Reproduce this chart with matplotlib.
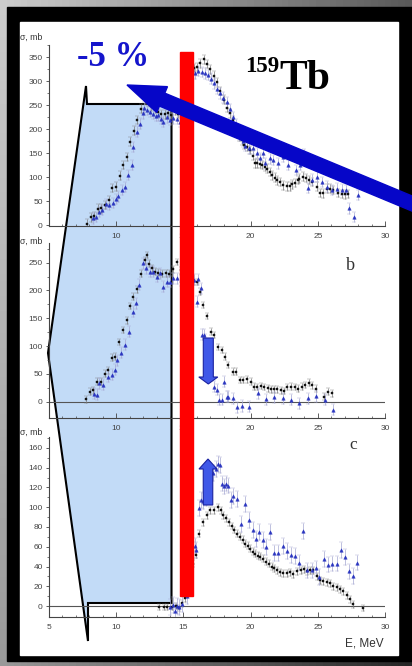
import numpy as np
import matplotlib.pyplot as plt
from matplotlib.patches import Polygon, Rectangle, FancyArrow

W, H = 412, 666

# (a) 159Tb, photoneutron cross section: squares / triangles
e_a_sq = [7.8, 8.1, 8.35, 8.65, 8.87, 9.17, 9.45, 9.72, 9.98, 10.25, 10.5, 10.78, 11.05, 11.33, 11.57,
          11.85, 12.12, 12.35, 12.6, 12.85, 13.1, 13.35, 13.6, 13.85, 14.1, 14.35, 14.6, 14.85, 15.1, 15.35,
          15.6, 15.8, 16.0, 16.24, 16.5, 16.75, 17.0, 17.25, 17.5, 17.75, 18.0, 18.25, 18.47, 18.7, 18.95,
          19.15, 19.34, 19.54, 19.74, 19.96, 20.15, 20.33, 20.5, 20.7, 20.88, 21.05, 21.2, 21.45, 21.6, 21.82,
          22.0, 22.2, 22.44, 22.7, 22.94, 23.1, 23.31, 23.5, 23.63, 23.93, 24.15, 24.35, 24.6, 24.92, 25.17,
          25.42, 25.67, 25.9, 26.16, 26.48, 26.78, 27.03, 27.28]
s_a_sq = [3, 16, 19, 34, 35, 42, 52, 77, 80, 103, 125, 142, 174, 197, 219,
          243, 261, 258, 248, 243, 236, 232, 231, 235, 230, 238, 232, 236, 255, 290,
          318, 328, 330, 338, 346, 336, 325, 312, 298, 280, 262, 245, 233, 219, 200,
          185, 177, 167, 163, 157, 145, 129, 129, 128, 125, 122, 118, 111, 104, 99,
          93, 90, 83, 81, 81, 85, 88, 94, 97, 101, 98, 94, 90, 80, 67,
          66, 76, 76, 73, 67, 65, 64, 65]
e_a_tr = [8.25, 8.5, 8.75, 8.95, 9.25, 9.5, 9.74, 9.95, 10.16, 10.4, 10.65, 10.9, 11.15, 11.27, 11.52,
          11.77, 12.0, 12.1, 12.3, 12.5, 12.75, 12.95, 13.13, 13.3, 13.5, 13.76, 14.0, 14.25, 14.5, 14.75,
          15.0, 15.3, 15.6, 15.86, 16.1, 16.35, 16.6, 16.85, 17.05, 17.25, 17.48, 17.7, 17.97, 18.22, 18.45,
          18.7, 18.95, 19.2, 19.4, 19.6, 19.85, 20.2, 20.5, 20.7, 20.9, 21.1, 21.45, 21.7, 22.07, 22.44,
          22.75, 23.06, 23.4, 23.7, 24.0, 24.3, 24.6, 24.92, 25.3, 25.67, 26.04, 26.4, 26.78, 27.08, 27.35,
          27.73, 28.0]
s_a_tr = [14, 17, 27, 31, 44, 42, 46, 54, 60, 73, 79, 104, 125, 163, 195,
          212, 233, 245, 240, 236, 232, 228, 229, 222, 216, 225, 220, 223, 222, 215,
          225, 280, 313, 317, 322, 320, 317, 313, 306, 296, 285, 275, 266, 256, 242,
          226, 210, 186, 175, 165, 160, 160, 150, 139, 150, 129, 139, 136, 129, 143,
          125, 153, 115, 125, 148, 77, 95, 101, 90, 80, 73, 76, 74, 73, 35,
          17, 63]

# (b)
e_b_sq = [7.75, 8.05, 8.3, 8.6, 8.85, 9.17, 9.4, 9.69, 9.93, 10.23, 10.48, 10.78, 11.03, 11.28, 11.57,
          11.85, 12.14, 12.3, 12.45, 12.65, 12.9, 13.13, 13.4, 13.7, 13.95, 14.25, 14.55, 14.8, 15.1, 15.4,
          15.75, 16.0, 16.24, 16.48, 16.78, 17.05, 17.3, 17.6, 17.85, 18.1, 18.34, 18.67, 18.89, 19.21, 19.46,
          19.76, 20.0, 20.25, 20.45, 20.78, 21.0, 21.27, 21.52, 21.77, 22.0, 22.24, 22.47, 22.71, 23.0, 23.3,
          23.55, 23.8, 24.05, 24.34, 24.6, 24.87, 25.46, 25.78, 26.03]
s_b_sq = [4, 18, 20, 36, 36, 50, 56, 79, 81, 107, 129, 146, 172, 189, 202,
          230, 254, 264, 248, 240, 234, 232, 230, 231, 230, 238, 251, 236, 242, 230,
          216, 215, 198, 174, 154, 126, 120, 98, 93, 81, 66, 54, 54, 39, 39,
          40, 36, 27, 26, 28, 26, 24, 22, 22, 22, 20, 19, 26, 27, 26,
          23, 27, 30, 34, 29, 23, 9, 18, 15]
e_b_tr = [8.35, 8.6, 8.74, 8.99, 9.41, 9.66, 9.91, 10.08, 10.33, 10.66, 10.98, 11.23, 11.47, 11.72, 11.97,
          12.22, 12.52, 12.76, 13.01, 13.26, 13.51, 13.76, 14.0, 14.25, 14.5, 14.8, 15.1, 15.45, 15.8, 15.98,
          16.12, 16.28, 16.35, 16.5, 16.58, 16.85, 17.08, 17.3, 17.5, 17.67, 17.85, 18.02, 18.22, 18.34, 18.72,
          18.96, 19.34, 19.9, 20.53, 21.15, 21.77, 22.39, 23.0, 23.63, 24.25, 24.87, 25.5, 26.11]
s_b_tr = [14, 12, 33, 30, 45, 48, 57, 74, 88, 102, 126, 162, 177, 210, 249,
          240, 234, 234, 225, 231, 207, 216, 216, 222, 222, 218, 222, 215, 219, 180,
          220, 204, 120, 120, 111, 85, 55, 27, 21, 3, 3, 36, 9, 9, 6,
          -10, -8, -9, 15, 4, 8, 6, 3, -3, 6, 10, 3, -15]

# (c)
e_c_sq = [13.2, 13.55, 13.8, 14.13, 14.45, 14.7, 14.9, 15.1, 15.35, 15.55, 15.74, 15.93, 16.18, 16.48, 16.73,
          16.98, 17.27, 17.55, 17.77, 17.97, 18.17, 18.39, 18.59, 18.79, 18.96, 19.2, 19.41, 19.6, 19.78, 19.95,
          20.15, 20.35, 20.52, 20.72, 20.94, 21.14, 21.34, 21.56, 21.76, 21.99, 22.18, 22.43, 22.68, 22.93, 23.18,
          23.42, 23.72, 23.97, 24.22, 24.42, 24.67, 24.91, 25.16, 25.41, 25.66, 25.9, 26.15, 26.4, 26.65, 26.9,
          27.14, 27.39, 27.6, 28.4]
s_c_sq = [-1, -1, -1, -1, 0, -2, 3, 8, 18, 30, 43, 52, 73, 85, 92,
          97, 97, 100, 97, 92, 89, 85, 81, 77, 73, 70, 67, 63, 61, 58,
          55, 53, 51, 50, 48, 45, 43, 40, 38, 36, 34, 33, 33, 34, 32,
          35, 36, 37, 35, 36, 36, 30, 26, 25, 24, 23, 20, 19, 17, 15,
          11, 7, 2, -2]
e_c_tr = [14.0, 14.25, 14.4, 14.55, 14.7, 14.9, 15.25, 15.5, 15.86, 15.93, 16.18, 16.3, 16.43, 16.68, 16.95,
          17.2, 17.42, 17.55, 17.72, 17.9, 18.04, 18.2, 18.34, 18.51, 18.66, 18.96, 19.26, 19.58, 19.9, 20.15,
          20.4, 20.65, 20.9, 21.14, 21.44, 21.74, 22.06, 22.38, 22.68, 22.98, 23.3, 23.6, 23.92, 24.22, 24.54,
          24.84, 25.11, 25.46, 25.76, 26.08, 26.4, 26.7, 27.0, 27.32, 27.64, 27.94]
s_c_tr = [-1, 1, -5, 0, -1, 2, 10, 30, 61, 57, 99, 107, 106, 109, 122,
          135, 139, 144, 143, 124, 121, 124, 122, 107, 111, 108, 83, 103, 87, 77,
          68, 75, 67, 60, 75, 54, 54, 61, 56, 52, 51, 44, 76, 36, 36,
          38, 29, 48, 42, 43, 43, 57, 50, 35, 30, 44]

SANS = 'Liberation Sans'
SERIF = 'Liberation Serif'

fig = plt.figure(figsize=(W / 100, H / 100), dpi=100)

# slide background: grey margin, black frame, white sheet, callout
bg = fig.add_axes([0, 0, 1, 1], zorder=-5)
bg.set_xlim(0, W)
bg.set_ylim(H, 0)
bg.axis('off')
gx = np.linspace(0, 1, 60)
gy = np.linspace(0, 1, 90)
shade = 0.80 - 0.45 * gx[None, :] - 0.2 * gy[:, None]
bg.imshow(shade, cmap='gray', vmin=0, vmax=1, extent=(0, W, H, 0), aspect='auto')
bg.add_patch(Rectangle((7, 7), 405, 654, color='black'))
bg.add_patch(Rectangle((20, 22), 378, 633, color='white'))
callout = [(86, 86), (48, 353), (88, 641), (88, 603), (171.5, 603), (171.5, 104), (87, 104)]
bg.add_patch(Polygon(callout, closed=True, fc='#c2dbf7', ec='black', lw=1.5, joinstyle='miter'))


def px_axes(x0, x1, top, bottom):
    return fig.add_axes([x0 / W, 1 - bottom / H, (x1 - x0) / W, (bottom - top) / H])


def style(ax, ylim, ystep, yminor, xlabels, zero_line):
    ax.set_facecolor('none')
    ax.set_xlim(5, 30)
    ax.set_ylim(*ylim)
    for s in ('top', 'right'):
        ax.spines[s].set_visible(False)
    for s in ('left', 'bottom'):
        ax.spines[s].set_color('#444444')
        ax.spines[s].set_linewidth(0.8)
    ax.set_xticks([5, 10, 15, 20, 25, 30])
    ax.set_xticklabels(xlabels)
    ax.set_xticks(np.arange(5, 31, 1), minor=True)
    yt = np.arange(0, ylim[1], ystep)
    ax.set_yticks(yt)
    ax.set_yticks(np.arange(0, ylim[1], yminor), minor=True)
    ax.tick_params(axis='x', which='major', direction='in', length=3.5, width=0.6,
                   pad=5.5, labelsize=6, colors='#444444')
    ax.tick_params(axis='x', which='minor', direction='in', length=1.8, width=0.5, colors='#444444')
    ax.tick_params(axis='y', which='major', direction='out', length=2.5, width=0.6,
                   pad=2, labelsize=6, colors='#444444')
    ax.tick_params(axis='y', which='minor', direction='out', length=1.3, width=0.5, colors='#444444')
    for t in ax.get_xticklabels() + ax.get_yticklabels():
        t.set_fontfamily(SANS)
    if zero_line:
        ax.axhline(0, color='#555555', lw=0.8, zorder=1)


def points(ax, e_sq, s_sq, err_sq, e_tr, s_tr, err_tr):
    ax.errorbar(e_sq, s_sq, yerr=err_sq, fmt='s', ms=1.9, mew=0.3, mfc='#111111', mec='#111111',
                ecolor='#7a7a7a', elinewidth=0.5, capsize=1.3, capthick=0.5, zorder=3)
    ax.errorbar(e_tr, s_tr, yerr=err_tr, fmt='^', ms=2.5, mew=0.3, mfc='#2a35c0', mec='#2a35c0',
                ecolor='#a4a6d2', elinewidth=0.5, capsize=1.3, capthick=0.5, zorder=3)


top_labels = ['', '10', '15', '20', '25', '30']

ax_a = px_axes(49, 385, 45, 225.5)
style(ax_a, (-1, 376), 50, 25, top_labels, False)
points(ax_a, e_a_sq, s_a_sq, 9, e_a_tr, s_a_tr, 11)

ax_b = px_axes(49, 385, 243.2, 417.7)
style(ax_b, (-29, 285), 50, 25, top_labels, True)
points(ax_b, e_b_sq, s_b_sq, 6, e_b_tr, s_b_tr, 10)

ax_c = px_axes(49, 385, 437.1, 616.7)
style(ax_c, (-10.8, 171), 20, 10, ['5', '10', '15', '20', '25', '30'], True)
points(ax_c, e_c_sq, s_c_sq, 3.5, e_c_tr, s_c_tr, 8)

# annotations drawn on top of the plots
ov = fig.add_axes([0, 0, 1, 1], zorder=10)
ov.set_xlim(0, W)
ov.set_ylim(H, 0)
ov.axis('off')
ov.patch.set_alpha(0)

for y in (37, 241, 432.5):
    ov.text(20, y, 'σ, mb', fontsize=6.3, family=SANS, color='#333333', va='center', ha='left')
ov.text(350, 266, 'b', fontsize=13, family=SERIF, color='#333333', ha='center', va='center')
ov.text(353, 445, 'c', fontsize=12.5, family=SERIF, color='#333333', ha='center', va='center')
ov.text(384, 643, 'E, MeV', fontsize=8.5, family=SANS, color='#333333', ha='right', va='center')

ov.add_patch(Rectangle((180, 51.7), 12.7, 544.3, color='#ff0000', zorder=2))

ov.add_patch(FancyArrow(430, 211, -303, -126, width=14, head_width=28, head_length=38,
                        length_includes_head=True, color='#0606c8', zorder=4))
ov.add_patch(FancyArrow(208.3, 338, 0, 46, width=10, head_width=19, head_length=7,
                        length_includes_head=True, fc='#4058e8', ec='#1a22a0', lw=0.8, zorder=4))
ov.add_patch(FancyArrow(208, 505, 0, -46, width=9.5, head_width=18, head_length=10,
                        length_includes_head=True, fc='#4058e8', ec='#1a22a0', lw=0.8, zorder=4))

ov.text(113, 57, '-5 %', fontsize=25, family=SERIF, weight='bold', color='#1515cc',
        ha='center', va='center', zorder=6)
ov.text(279, 72, '159', fontsize=16.5, family=SERIF, weight='bold', color='black',
        ha='right', va='baseline', zorder=6)
ov.text(279, 89, 'Tb', fontsize=30, family=SERIF, weight='bold', color='black', va='baseline', zorder=6)

fig.savefig('out.png', dpi=100)
